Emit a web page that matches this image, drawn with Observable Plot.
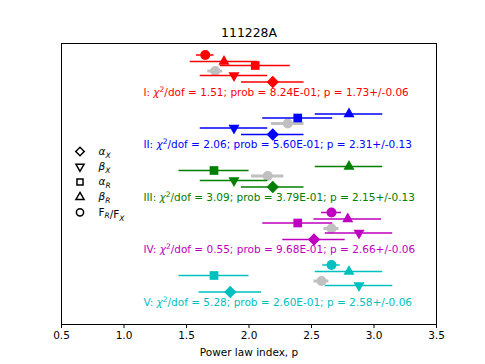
<!DOCTYPE html>
<html>
<head>
<meta charset="utf-8">
<script src="https://cdn.jsdelivr.net/npm/d3@7"></script>
<script src="https://cdn.jsdelivr.net/npm/@observablehq/plot@0.6"></script>
<style>
  html, body { margin: 0; padding: 0; background: white; }
  svg { display: block; }
</style>
</head>
<body>
<div id="chart"></div>
<script>
// ---- data ----
const title = "111228A";
const xLabel = "Power law index, p";
const xTicks = [0.5, 1.0, 1.5, 2.0, 2.5, 3.0, 3.5];
const groups = ["I", "II", "III", "IV", "V"];
const groupColors = ["#ff0000", "#0000ff", "#008000", "#bf00bf", "#00bfbf"];
const alphaX    = [2.19, 2.19, 2.19, 2.52, 1.85];
const alphaXErr = [0.25, 0.25, 0.25, 0.25, 0.25];
const betaX     = [1.88, 1.88, 1.88, 2.88, 2.88];
const betaXErr  = [0.27, 0.27, 0.27, 0.27, 0.27];
const alphaR    = [2.05, 2.39, 1.72, 2.39, 1.72];
const alphaRErr = [0.28, 0.28, 0.28, 0.28, 0.28];
const betaR     = [1.80, 2.80, 2.80, 2.79, 2.80];
const betaRErr  = [0.27, 0.27, 0.27, 0.27, 0.27];
const ratioFRFX    = [1.65, null, null, 2.66, 2.66];
const ratioFRFXErr = [0.07, null, null, 0.08, 0.07];
const pBest = [1.73, 2.31, 2.15, 2.66, 2.58];
const pErr  = [0.06, 0.13, 0.13, 0.06, 0.06];
const chi2dof = [1.51, 2.06, 3.09, 0.55, 5.28];
const prob    = [0.824, 0.560, 0.379, 0.968, 0.260];
const legendLabels = ["α_X", "β_X", "α_R", "β_R", "F_R/F_X"];

// ---- layout (vertical placement of rows within each group) ----
const G = 52.5; // px per group
const FS = 10.5;
const params = [
  {key: "alphaX", vals: alphaX, errs: alphaXErr, off: -10.5, symbol: "square", rotate: 45, r: 4.9, lr: 3.4},
  {key: "betaX",  vals: betaX,  errs: betaXErr,  off: -17,   symbol: "triangle", rotate: 180, r: 4.1, lr: 3.0},
  {key: "alphaR", vals: alphaR, errs: alphaRErr, off: -27,   symbol: "square", rotate: 0, r: 4.9, lr: 3.4},
  {key: "betaR",  vals: betaR,  errs: betaRErr,  off: -31,   symbol: "triangle", rotate: 0, r: 4.1, lr: 3.0},
  {key: "ratio",  vals: ratioFRFX, errs: ratioFRFXErr, off: -37.5, symbol: "circle", rotate: 0, r: 5, lr: 3.6}
];

const pts = [];
params.forEach(p => {
  groups.forEach((g, i) => {
    if (p.vals[i] == null) return;
    pts.push({
      x: p.vals[i], lo: p.vals[i] - p.errs[i], hi: p.vals[i] + p.errs[i],
      y: i + p.off / G, color: groupColors[i], symbol: p.symbol, rotate: p.rotate, r: p.r, key: p.key
    });
  });
});
const gray = groups.map((g, i) => ({x: pBest[i], lo: pBest[i] - pErr[i], hi: pBest[i] + pErr[i], y: i - 21.5 / G}));

function fmtE(v) {
  const [m, e] = v.toExponential(2).split("e");
  const n = +e;
  return m + "E" + (n < 0 ? "-" : "+") + String(Math.abs(n)).padStart(2, "0");
}
const notes = groups.map((g, i) => ({
  x: 1.155, y: i, color: groupColors[i],
  text: `${g}: χ²/dof = ${chi2dof[i].toFixed(2)}; prob = ${fmtE(prob[i])}; p = ${pBest[i].toFixed(2)}+/-${pErr[i].toFixed(2)}`
}));

const legendMarks = [];
legendLabels.forEach((lab, i) => {
  const p = params[i];
  const dy = 108 + 15.2 * i;
  legendMarks.push(Plot.dot([lab], {frameAnchor: "top-left", dx: 18.5, dy, symbol: p.symbol, rotate: p.rotate,
    r: p.lr, stroke: "black", strokeWidth: 1.5, fill: "none"}));
  legendMarks.push(Plot.text([lab], {frameAnchor: "top-left", dx: 37, dy, text: d => d, textAnchor: "start",
    lineAnchor: "middle", fontSize: FS, fill: "black"}));
});

const chart = Plot.plot({
  width: 485, height: 364,
  marginLeft: 61, marginRight: 49, marginTop: 43, marginBottom: 40,
  style: {fontFamily: "DejaVu Sans, sans-serif", fontSize: FS + "px", background: "white", color: "black"},
  x: {domain: [0.5, 3.5]},
  y: {domain: [-49 / G, 4 + 22 / G], reverse: true, axis: null},
  r: {type: "identity"},
  marks: [
    Plot.axisX({ticks: xTicks, tickFormat: d => d.toFixed(1), tickSize: 4, tickPadding: 3.5, fontSize: FS,
      label: null, stroke: "black", strokeWidth: 1}),
    Plot.text([xLabel], {frameAnchor: "bottom", dy: 28, lineAnchor: "middle", fontSize: FS, fill: "black"}),
    Plot.text([title], {frameAnchor: "top", dy: -10, lineAnchor: "middle", fontSize: 12.4, fill: "black"}),
    Plot.ruleY(gray, {y: "y", x1: "lo", x2: "hi", stroke: "#c0c0c0", strokeWidth: 3}),
    Plot.dot(gray, {x: "x", y: "y", r: 5, fill: "#c0c0c0", symbol: "circle"}),
    Plot.ruleY(pts, {y: "y", x1: "lo", x2: "hi", stroke: "color", strokeWidth: 1.5}),
    Plot.dot(pts, {x: "x", y: "y", r: "r", fill: "color", symbol: "symbol", rotate: "rotate"}),
    Plot.text(notes, {x: "x", y: "y", text: "text", fill: "color", textAnchor: "start", fontSize: FS}),
    ...legendMarks,
    Plot.frame({stroke: "black", strokeWidth: 1})
  ]
});
document.getElementById("chart").appendChild(chart);

// ---- rich text: italic greek, super/subscripts ----
chart.querySelectorAll("text").forEach(t => {
  const s = t.textContent;
  if (s.includes("χ²")) {
    const [a, b] = s.split("χ²");
    t.innerHTML = `<tspan>${a}</tspan><tspan font-style="italic">χ</tspan><tspan dy="-4.2" font-size="7.5">2</tspan><tspan dy="4.2">${b}</tspan>`;
  } else if (legendLabels.includes(s)) {
    let html = "";
    for (let k = 0; k < s.length; k++) {
      const c = s[k];
      if (c === "_") {
        html += `<tspan dy="2.8" font-size="7.5" font-style="italic">${s[k + 1]}</tspan><tspan dy="-2.8"></tspan>`;
        k++;
      } else if (c === "α" || c === "β") {
        html += `<tspan font-style="italic">${c}</tspan>`;
      } else {
        html += `<tspan>${c}</tspan>`;
      }
    }
    t.innerHTML = html;
  }
});
</script>
</body>
</html>
